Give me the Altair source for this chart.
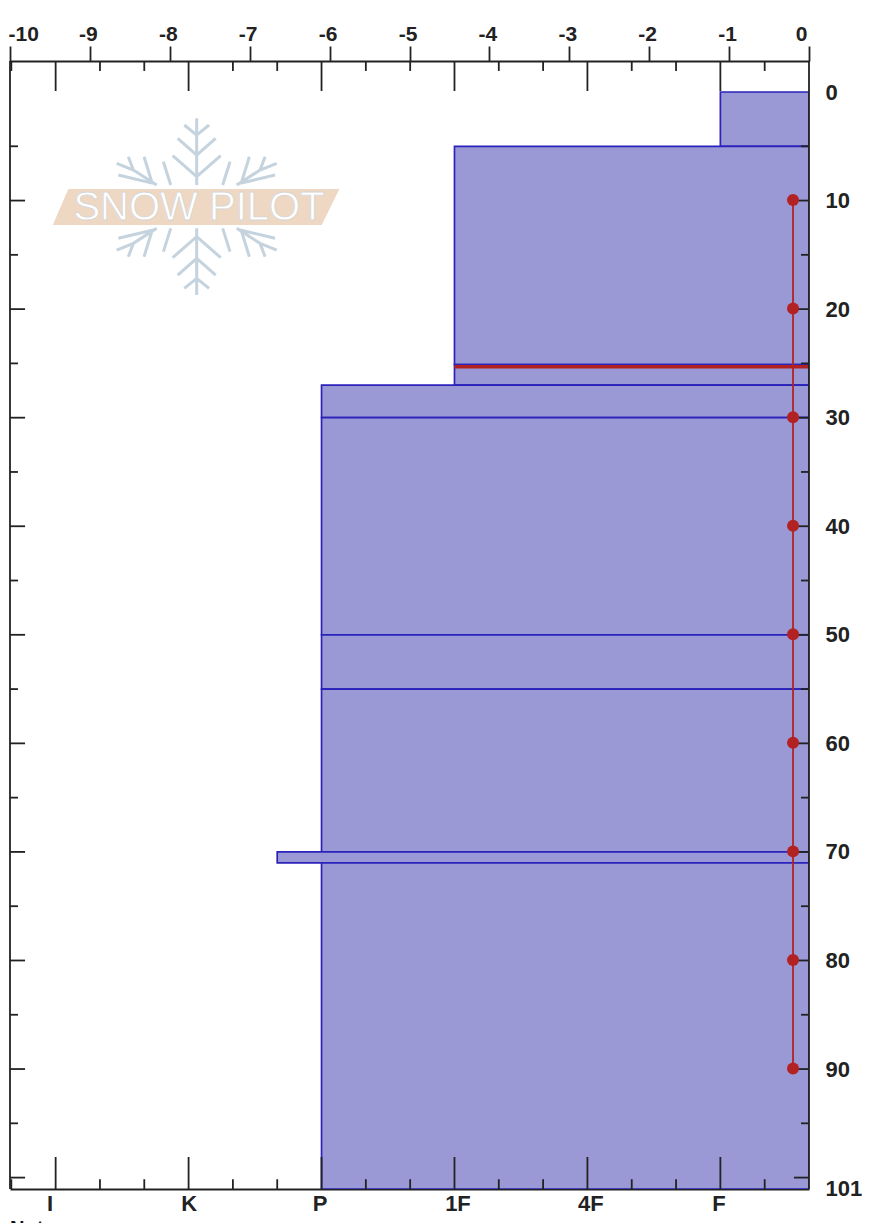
import altair as alt
import pandas as pd

# Snow layers: depth range (cm) and hand hardness position of the left edge
layer_top = [0, 5, 25.1, 27, 30, 50, 55, 70, 71]
layer_bottom = [5, 25.1, 27, 30, 50, 55, 70, 71, 101.05]
layer_hardness = [16, 10, 10, 7, 7, 7, 7, 6, 7]

# Temperature profile
temp_depth = [9.95, 19.95, 29.95, 39.95, 49.95, 59.95, 69.95, 79.95, 89.95]
temp_value = [-0.2, -0.2, -0.2, -0.2, -0.2, -0.2, -0.2, -0.2, -0.2]

# Axis values
hard_major = [1, 4, 7, 10, 13, 16]
hard_minor = [0, 2, 3, 5, 6, 8, 9, 11, 12, 14, 15, 17]
depth_major = [10, 20, 30, 40, 50, 60, 70, 80, 90, 100]
depth_minor = [5, 15, 25, 35, 45, 55, 65, 75, 85, 95]
depth_labels = [0, 10, 20, 30, 40, 50, 60, 70, 80, 90, 101]
temp_ticks = [-10, -9, -8, -7, -6, -5, -4, -3, -2, -1, 0]
shear_depth = [25.3]

X_DOM = [-0.03, 18]
Y_DOM = [-2.856, 101.05]
INK = "#222222"

layers = pd.DataFrame({"top": layer_top, "bottom": layer_bottom,
                       "left": layer_hardness, "right": [18] * len(layer_top)})
temp = pd.DataFrame({"t": temp_value, "d": temp_depth})

segs = []
for h in hard_major:
    segs.append((h, h, Y_DOM[0], -0.09))
    segs.append((h, h, 98.1, Y_DOM[1]))
for h in hard_minor:
    segs.append((h, h, Y_DOM[0], -1.94))
    segs.append((h, h, 100.15, Y_DOM[1]))
for d in depth_major:
    segs.append((X_DOM[0], 0.31, d, d))
    segs.append((17.66, 18, d, d))
for d in depth_minor:
    segs.append((X_DOM[0], 0.15, d, d))
    segs.append((17.82, 18, d, d))
segs.append((X_DOM[0], X_DOM[0], Y_DOM[0], Y_DOM[1]))
segs.append((18, 18, Y_DOM[0], Y_DOM[1]))
ticks = pd.DataFrame(segs, columns=["x", "x2", "y", "y2"])

x_scale = alt.Scale(domain=X_DOM, nice=False, zero=False)
y_scale = alt.Scale(domain=Y_DOM, reverse=True, nice=False, zero=False)
x_axis = alt.Axis(orient="bottom", title=None, grid=False, values=hard_major, ticks=False,
                  domainColor=INK, domainWidth=1.8, labelFont="Liberation Sans",
                  labelFontSize=22, labelFontWeight="bold", labelColor=INK, labelPadding=4,
                  labelFlush=False, labelOverlap=False,
                  labelExpr="{1:'I',4:'K',7:'P',10:'1F',13:'4F',16:'F'}[datum.value]",
                  labelOffset=alt.expr("datum.value==1?-6:datum.value==7?-2:datum.value==10||datum.value==13?3:datum.value==16?-2:0"))
y_axis = alt.Axis(orient="right", title=None, grid=False, values=depth_labels, ticks=False,
                  domain=False, labelFont="Liberation Sans", labelFontSize=22,
                  labelFontWeight="bold", labelColor=INK, labelPadding=16, labelAlign="left",
                  labelFlush=False, labelBound=False, labelOverlap=False)
t_scale = alt.Scale(domain=[-10, 0], nice=False, zero=False)
t_axis = alt.Axis(orient="top", title=None, grid=False, values=temp_ticks, tickSize=15,
                  tickWidth=1.8, tickColor=INK, domainColor=INK, domainWidth=1.8,
                  labelFont="Liberation Sans", labelFontSize=21, labelFontWeight="bold",
                  labelColor=INK, labelPadding=2, labelFlush=True, labelOffset=-2,
                  labelOverlap=False, labelExpr="'' + datum.value")

# Watermark outlines, in unit coordinates around its centre
U = 265.0
def seg(a, b):
    return f"M{a[0]/U:.3f} {a[1]/U:.3f}L{b[0]/U:.3f} {b[1]/U:.3f}"
flake_parts = []
for sy in (1, -1):
    flake_parts.append(seg((0, -65 * sy), (0, -265 * sy)))
    for px, py, qy in [(72, -153, -90), (57, -205, -155), (37, -245, -215)]:
        for sx in (1, -1):
            flake_parts.append(seg((0, qy * sy), (sx * px, py * sy)))
    for sx in (1, -1):
        flake_parts.append(seg((sx * 120, -65 * sy), (sx * 190, -110 * sy)))
        flake_parts.append(seg((sx * 190, -110 * sy), (sx * 240, -130 * sy)))
        flake_parts.append(seg((sx * 190, -110 * sy), (sx * 205, -150 * sy)))
        flake_parts.append(seg((sx * 130, -70 * sy), (sx * 235, -95 * sy)))
        flake_parts.append(seg((sx * 135, -75 * sy), (sx * 158, -150 * sy)))
        flake_parts.append(seg((sx * 78, -65 * sy), (sx * 100, -135 * sy)))
flake_path = "".join(flake_parts)
band_path = "M{:.3f} {:.3f}L{:.3f} {:.3f}L{:.3f} {:.3f}L{:.3f} {:.3f}Z".format(
    -385 / U, -53 / U, 428 / U, -53 / U, 375 / U, 55 / U, -432 / U, 55 / U)
mark_x, mark_y, mark_size = 186.7, 145.7, 176.7 ** 2

flake = alt.Chart(pd.DataFrame({"a": [1]})).mark_point(
    shape=flake_path, size=mark_size, filled=False, stroke="#c4d3dd", strokeWidth=3, opacity=1
).encode(x=alt.value(mark_x), y=alt.value(mark_y))
band = alt.Chart(pd.DataFrame({"a": [1]})).mark_point(
    shape=band_path, size=mark_size, filled=True, fill="#eed8c3", strokeWidth=0, opacity=1
).encode(x=alt.value(mark_x), y=alt.value(mark_y))
logo = alt.Chart(pd.DataFrame({"a": ["SNOW PILOT"]})).mark_text(
    font="Liberation Sans", fontSize=40, fill="#ffffff", stroke="#d6d6d6", strokeWidth=0.8,
    align="center", baseline="middle"
).encode(x=alt.value(189), y=alt.value(147), text="a:N")

rects = alt.Chart(layers).mark_rect(fill="#9b99d5", stroke="#2a22bb", strokeWidth=1.7, clip=True).encode(
    x=alt.X("left:Q", scale=x_scale, axis=x_axis), x2="right:Q",
    y=alt.Y("top:Q", scale=y_scale, axis=y_axis), y2="bottom:Q")

shear = alt.Chart(pd.DataFrame({"d": shear_depth, "a": [10], "b": [18]})).mark_rule(
    color="#b22222", strokeWidth=3.5).encode(
    x=alt.X("a:Q", scale=x_scale, axis=x_axis), x2="b:Q",
    y=alt.Y("d:Q", scale=y_scale, axis=y_axis))

tick_marks = alt.Chart(ticks).mark_rule(color=INK, strokeWidth=1.8).encode(
    x=alt.X("x:Q", scale=x_scale, axis=x_axis), x2="x2:Q",
    y=alt.Y("y:Q", scale=y_scale, axis=y_axis), y2="y2:Q")

notes = alt.Chart(pd.DataFrame({"a": ["Notes"]})).mark_text(
    font="Liberation Sans", fontSize=20, fontWeight="bold", color="#111111",
    align="left", baseline="alphabetic"
).encode(x=alt.value(0), y=alt.value(1174), text="a:N")

hardness_part = alt.layer(band, flake, logo, rects, shear, tick_marks, notes)

temp_line = alt.Chart(temp).mark_line(color="#b22222", strokeWidth=1.8).encode(
    x=alt.X("t:Q", scale=t_scale, axis=t_axis),
    y=alt.Y("d:Q", scale=y_scale, axis=y_axis))
temp_pts = alt.Chart(temp).mark_point(filled=True, color="#b22222", size=144, opacity=1).encode(
    x=alt.X("t:Q", scale=t_scale, axis=t_axis),
    y=alt.Y("d:Q", scale=y_scale, axis=y_axis))
temp_part = alt.layer(temp_line, temp_pts)

chart = alt.layer(hardness_part, temp_part).resolve_scale(x="independent").properties(
    width=799, height=1128,
    autosize=alt.AutoSizeParams(type="none"),
    padding={"left": 2, "top": 53, "right": 53, "bottom": 37},
).configure_view(stroke=None)

chart.save("out.html", embed_options={"renderer": "svg", "actions": False})
